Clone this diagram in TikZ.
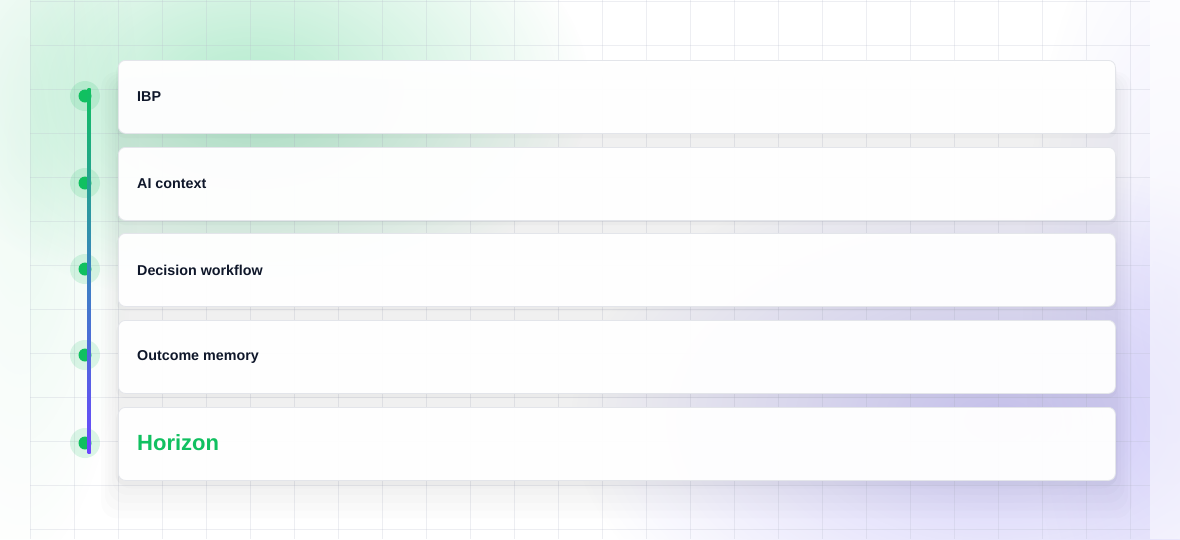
\documentclass[tikz,border=0pt]{standalone}
\usepackage{fontspec}
\setmainfont{Liberation Sans}
\usetikzlibrary{fadings}
\definecolor{gglow}{HTML}{3CCB7F}
\definecolor{pglow}{HTML}{7F72EE}
\definecolor{gdot}{HTML}{10C060}
\definecolor{pline}{HTML}{6C47FF}
\definecolor{pmid}{HTML}{3A84C0}
\definecolor{ink}{HTML}{0F172A}
\definecolor{gridc}{HTML}{B8BCCC}
\definecolor{cardb}{HTML}{E3E5EA}
\tikzfading[name=glow, inner color=transparent!0, outer color=transparent!100]
\tikzset{
  card/.style={draw=cardb, line width=0.8pt, fill=white, fill opacity=0.97, rounded corners=7pt},
  lbl/.style={anchor=west, text=ink, font=\bfseries\fontsize{14.3}{17}\selectfont, inner sep=0pt},
  halo/.style={fill=gdot, fill opacity=0.14, draw=none},
  dotc/.style={fill=gdot, draw=none},
}
\begin{document}
\begin{tikzpicture}[x=1pt,y=-1pt]
\useasboundingbox (0,0) rectangle (1180,539);
\fill[white] (0,0) rectangle (1180,539);
% glows
\fill[gglow, opacity=0.38, path fading=glow] (250,90) ellipse (340 and 220);
\fill[gglow, opacity=0.12, path fading=glow] (20,150) ellipse (120 and 420);
\fill[pglow, opacity=0.34, path fading=glow] (1000,420) ellipse (430 and 260);
\fill[pglow, opacity=0.12, path fading=glow] (1170,300) ellipse (150 and 420);
% panel edges
\fill[white, opacity=0.4] (0,0) rectangle (30,539);
\fill[white, opacity=0.5] (1150,0) rectangle (1180,539);
% grid
\foreach \i in {0,...,25} \draw[gridc, opacity=0.25, line width=0.6pt] (30+44*\i,0) -- (30+44*\i,539);
\foreach \j in {0,...,12} \draw[gridc, opacity=0.25, line width=0.6pt] (30,1+44*\j) -- (1150,1+44*\j);
% card shadows (soft, falling downward)
\foreach \o in {28,22,16,10,5}{
  \fill[black, opacity=0.011, rounded corners=16pt] (118-\o*0.6,80-\o*0.3) rectangle (1115+\o*0.6,482+\o*1.3);
}
\foreach \y in {60,147,233,320,407}{
  \fill[black, opacity=0.018, rounded corners=9pt] (116,\y+3) rectangle (1117,\y+78);
}
% cards
\node[card, minimum width=997pt, minimum height=73pt, anchor=north west] (c1) at (118,60) {};
\node[card, minimum width=997pt, minimum height=73pt, anchor=north west] (c2) at (118,147) {};
\node[card, minimum width=997pt, minimum height=73pt, anchor=north west] (c3) at (118,233) {};
\node[card, minimum width=997pt, minimum height=73pt, anchor=north west] (c4) at (118,320) {};
\node[card, minimum width=997pt, minimum height=73pt, anchor=north west] (c5) at (118,407) {};
\node[lbl] (t1) at (137,97) {IBP};
\node[lbl] (t2) at (137,184) {AI context};
\node[lbl] (t3) at (137,270) {Decision workflow};
\node[lbl] (t4) at (137,357) {Outcome memory};
\node[lbl, text=gdot, font=\bfseries\fontsize{22}{26}\selectfont] (t5) at (137,443) {Horizon};
% timeline dots
\foreach \n/\y in {1/96,2/183,3/269,4/355,5/443}{
  \fill[halo] (85,\y) circle (15);
  \node[dotc, circle, minimum size=13pt, inner sep=0pt] (d\n) at (85,\y) {};
}
% gradient line
\shade[top color=gdot, bottom color=pline, middle color=pmid] (87.5,88) rectangle (90.5,453);
\end{tikzpicture}
\end{document}
